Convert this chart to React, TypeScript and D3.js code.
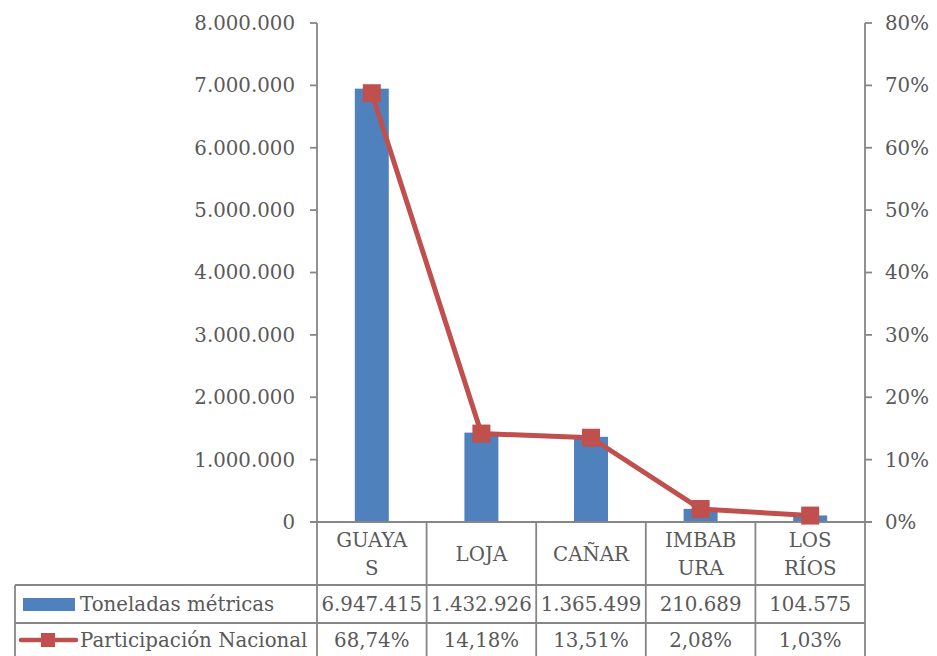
import React from "react";
import * as d3 from "d3";

const categories = ["GUAYAS", "LOJA", "CAÑAR", "IMBABURA", "LOS RÍOS"];
const categoryLines = [["GUAYA", "S"], ["LOJA"], ["CAÑAR"], ["IMBAB", "URA"], ["LOS", "RÍOS"]];
const toneladas = [6947415, 1432926, 1365499, 210689, 104575];
const participacion = [68.74, 14.18, 13.51, 2.08, 1.03];
const leftTicks = [0, 1000000, 2000000, 3000000, 4000000, 5000000, 6000000, 7000000, 8000000];
const rightTicks = [0, 10, 20, 30, 40, 50, 60, 70, 80];
const seriesNames = ["Toneladas métricas", "Participación Nacional"];

const locale = d3.formatLocale({ decimal: ",", thousands: ".", grouping: [3], currency: ["$", ""] });
const fmtInt = locale.format(",d");
const fmtPct = locale.format(",.2f");

const W = 937, H = 656;
const L = 317, R = 865, TOP = 23, BASE = 522;
const ROW1 = 585, ROW2 = 623, ROW3 = 661;
const TABLE_LEFT = 15;
const FONT = "'DejaVu Serif', serif";
const TXT = "#595959";
const GRID = "#868686";
const BLUE = "#4F81BD";
const RED = "#C0504D";

export default function App() {
  const x = d3.scaleBand<string>().domain(categories).range([L, R]).padding(0);
  const yL = d3.scaleLinear().domain([0, 8000000]).range([BASE, TOP]);
  const yR = d3.scaleLinear().domain([0, 80]).range([BASE, TOP]);
  const bw = x.bandwidth() * 0.31;
  const cx = (c: string) => (x(c) as number) + x.bandwidth() / 2;
  const line = d3.line<number>().x((_, i) => cx(categories[i])).y((d) => yR(d));
  const fs = 19.8;

  return (
    <svg width={W} height={H} style={{ position: "absolute", left: 0, top: 0, background: "#fff" }} fontFamily={FONT}>
      <rect width={W} height={H} fill="#fff" />
      {toneladas.map((v, i) => (
        <rect key={i} x={cx(categories[i]) - bw / 2} y={yL(v)} width={bw} height={BASE - yL(v)} fill={BLUE} />
      ))}
      <g stroke={GRID} strokeWidth={1.8} fill="none">
        <line x1={L} y1={TOP} x2={L} y2={H} />
        <line x1={R} y1={TOP} x2={R} y2={H} />
        <line x1={L - 7} y1={BASE} x2={R + 7} y2={BASE} />
        {leftTicks.map((t) => (
          <line key={"lt" + t} x1={L - 7} x2={L} y1={yL(t)} y2={yL(t)} />
        ))}
        {rightTicks.map((t) => (
          <line key={"rt" + t} x1={R} x2={R + 7} y1={yR(t)} y2={yR(t)} />
        ))}
        {categories.map((c, i) => (i > 0 ? <line key={"v" + c} x1={x(c) as number} x2={x(c) as number} y1={BASE} y2={H} /> : null))}
        <line x1={TABLE_LEFT} x2={R} y1={ROW1} y2={ROW1} />
        <line x1={TABLE_LEFT} x2={R} y1={ROW2} y2={ROW2} />
        <line x1={TABLE_LEFT} x2={R} y1={ROW3} y2={ROW3} />
        <line x1={TABLE_LEFT} x2={TABLE_LEFT} y1={ROW1} y2={H} />
      </g>
      <g fill={TXT} fontSize={fs}>
        {leftTicks.map((t) => (
          <text key={"ll" + t} x={L - 22} y={yL(t)} dy="0.35em" textAnchor="end">{fmtInt(t)}</text>
        ))}
        {rightTicks.map((t) => (
          <text key={"rl" + t} x={R + 20} y={yR(t)} dy="0.35em" textAnchor="start">{t + "%"}</text>
        ))}
        {categoryLines.map((lines, i) => {
          const mid = (BASE + ROW1) / 2 + 1;
          const lh = 28;
          return lines.map((s, j) => (
            <text key={"c" + i + j} x={cx(categories[i])} y={mid + (j - (lines.length - 1) / 2) * lh} dy="0.35em" textAnchor="middle">{s}</text>
          ));
        })}
        {toneladas.map((v, i) => (
          <text key={"tv" + i} x={cx(categories[i])} y={(ROW1 + ROW2) / 2} dy="0.35em" textAnchor="middle">{fmtInt(v)}</text>
        ))}
        {participacion.map((v, i) => (
          <text key={"pv" + i} x={cx(categories[i])} y={(ROW2 + ROW3) / 2 - 2} dy="0.35em" textAnchor="middle">{fmtPct(v) + "%"}</text>
        ))}
        <text x={80} y={(ROW1 + ROW2) / 2} dy="0.35em">{seriesNames[0]}</text>
        <text x={80} y={(ROW2 + ROW3) / 2 - 2} dy="0.35em">{seriesNames[1]}</text>
      </g>
      <rect x={23} y={598} width={52} height={13} fill={BLUE} />
      <line x1={21} x2={76} y1={640} y2={640} stroke={RED} strokeWidth={4.5} strokeLinecap="round" />
      <rect x={41} y={633} width={14} height={14} fill={RED} />
      <path d={line(participacion) as string} fill="none" stroke={RED} strokeWidth={5} strokeLinejoin="round" />
      {participacion.map((v, i) => (
        <rect key={"m" + i} x={cx(categories[i]) - 9} y={yR(v) - 9} width={18} height={18} fill={RED} />
      ))}
    </svg>
  );
}
